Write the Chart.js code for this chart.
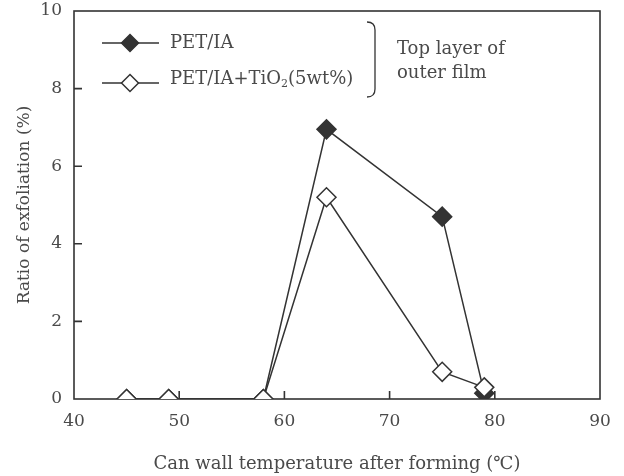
<!DOCTYPE html>
<html>
<head>
<meta charset="utf-8">
<script src="https://cdn.jsdelivr.net/npm/chart.js@4/dist/chart.umd.min.js"></script>
<style>
  html, body { margin: 0; padding: 0; background: #fff; }
  #wrap { width: 624px; height: 476px; }
</style>
</head>
<body>
<div id="wrap"><canvas id="c" width="624" height="476"></canvas></div>
<script>
// ---- data ----
const temps = [45, 49, 58, 64, 75, 79];
const petIA = [0, 0, 0, 6.95, 4.7, 0.15];
const petIATiO2 = [0, 0, 0, 5.2, 0.7, 0.3];
const seriesNames = ['PET/IA', 'PET/IA+TiO2(5wt%)'];
const xTicks = [40, 50, 60, 70, 80, 90];
const yTicks = [0, 2, 4, 6, 8, 10];
const xTitle = 'Can wall temperature after forming (\u2103)';
const yTitle = 'Ratio of exfoliation (%)';
const noteLines = ['Top layer of', 'outer film'];

const FONT = "'DejaVu Serif', serif";
const INK = '#333333';
const TXT = '#4a4a4a';

const toPts = (xs, ys) => xs.map((x, i) => ({ x: x, y: ys[i] }));

const framePlugin = {
  id: 'frame',
  beforeDatasetsDraw(chart) {
    const { ctx, chartArea: a, scales } = chart;
    ctx.save();
    ctx.strokeStyle = INK;
    ctx.lineWidth = 1.6;
    ctx.strokeRect(a.left, a.top, a.right - a.left, a.bottom - a.top);
    // inward ticks
    const L = 8;
    ctx.beginPath();
    xTicks.slice(1, -1).forEach(v => {
      const px = scales.x.getPixelForValue(v);
      ctx.moveTo(px, a.bottom);
      ctx.lineTo(px, a.bottom - L);
    });
    yTicks.slice(1, -1).forEach(v => {
      const py = scales.y.getPixelForValue(v);
      ctx.moveTo(a.left, py);
      ctx.lineTo(a.left + L, py);
    });
    ctx.stroke();
    ctx.restore();
  }
};

const legendPlugin = {
  id: 'customLegend',
  afterDraw(chart) {
    const { ctx } = chart;
    ctx.save();
    const rows = [
      { y: 43, fill: INK },
      { y: 83, fill: '#ffffff' }
    ];
    rows.forEach(r => {
      ctx.strokeStyle = INK;
      ctx.lineWidth = 1.5;
      ctx.beginPath();
      ctx.moveTo(102, r.y);
      ctx.lineTo(159, r.y);
      ctx.stroke();
      const cx = 130, rad = 8.5;
      ctx.beginPath();
      ctx.moveTo(cx, r.y - rad);
      ctx.lineTo(cx + rad, r.y);
      ctx.lineTo(cx, r.y + rad);
      ctx.lineTo(cx - rad, r.y);
      ctx.closePath();
      ctx.fillStyle = r.fill;
      ctx.fill();
      ctx.stroke();
    });
    ctx.fillStyle = TXT;
    ctx.textBaseline = 'middle';
    ctx.textAlign = 'left';
    ctx.font = '18px ' + FONT;
    ctx.fillText(seriesNames[0], 170, 43);
    // second label with subscript 2
    const parts = seriesNames[1].split('2');
    let x = 170;
    ctx.fillText(parts[0], x, 79);
    x += ctx.measureText(parts[0]).width;
    ctx.font = '11px ' + FONT;
    ctx.fillText('2', x, 84);
    x += ctx.measureText('2').width;
    ctx.font = '18px ' + FONT;
    ctx.fillText(parts.slice(1).join('2'), x, 79);
    // bracket
    ctx.strokeStyle = INK;
    ctx.lineWidth = 1.3;
    ctx.beginPath();
    ctx.moveTo(367, 22);
    ctx.quadraticCurveTo(375, 22, 375, 30);
    ctx.lineTo(375, 89);
    ctx.quadraticCurveTo(375, 97, 367, 97);
    ctx.stroke();
    ctx.fillText(noteLines[0], 397, 49);
    ctx.fillText(noteLines[1], 397, 73);
    ctx.restore();
  }
};

new Chart(document.getElementById('c'), {
  type: 'line',
  data: {
    datasets: [
      {
        label: seriesNames[1],
        data: toPts(temps, petIATiO2),
        borderColor: INK,
        borderWidth: 1.5,
        backgroundColor: '#ffffff',
        pointStyle: 'rectRot',
        pointRadius: 9.5,
        pointBorderWidth: 1.5,
        pointBackgroundColor: '#ffffff',
        pointBorderColor: INK,
        tension: 0
      },
      {
        label: seriesNames[0],
        data: toPts(temps, petIA),
        borderColor: INK,
        borderWidth: 1.5,
        backgroundColor: INK,
        pointStyle: 'rectRot',
        pointRadius: 9.5,
        pointBorderWidth: 1.5,
        pointBackgroundColor: INK,
        pointBorderColor: INK,
        tension: 0
      }
    ]
  },
  options: {
    responsive: false,
    animation: false,
    events: [],
    layout: { padding: { top: 0, right: 24, left: 0, bottom: 0 } },
    plugins: { legend: { display: false }, tooltip: { enabled: false } },
    scales: {
      x: {
        type: 'linear',
        min: 40, max: 90,
        afterFit(s) { s.height = 77; },
        afterBuildTicks(s) { s.ticks = xTicks.map(v => ({ value: v })); },
        grid: { display: false },
        border: { display: false },
        ticks: { color: TXT, font: { family: FONT, size: 17 }, padding: 4, maxRotation: 0 },
        title: { display: true, text: xTitle, color: TXT, font: { family: FONT, size: 18 }, padding: { top: 0, bottom: 1 } }
      },
      y: {
        min: 0, max: 10,
        afterFit(s) { s.width = 74; s.paddingTop = 10.5; },
        afterBuildTicks(s) { s.ticks = yTicks.map(v => ({ value: v })); },
        grid: { display: false },
        border: { display: false },
        ticks: { color: TXT, font: { family: FONT, size: 17 }, padding: 4 },
        title: { display: true, text: yTitle, color: TXT, font: { family: FONT, size: 17 }, padding: { top: 14, bottom: 0 } }
      }
    }
  },
  plugins: [framePlugin, legendPlugin]
});
</script>
</body>
</html>
